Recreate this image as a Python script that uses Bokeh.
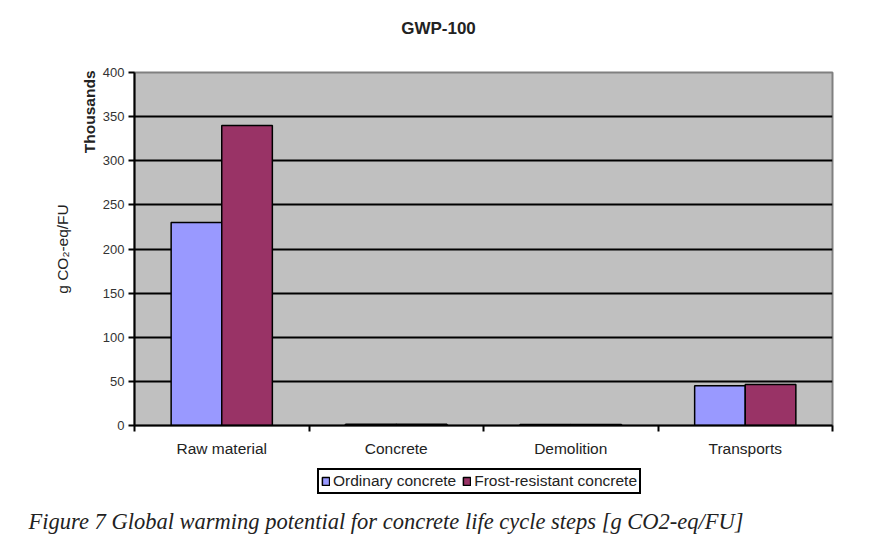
import numpy as np
from bokeh.plotting import figure
from bokeh.layouts import column
from bokeh.models import (ColumnDataSource, FixedTicker, Label, Legend, LegendItem,
                          Range1d, Title)
from bokeh.transform import dodge
from bokeh.embed import file_html
from bokeh.resources import INLINE

categories = ["Raw material", "Concrete", "Demolition", "Transports"]
ordinary = [230, 1.5, 1.0, 45]      # thousands g CO2-eq/FU
frost = [340, 1.5, 1.0, 46.5]
y_ticks = [0, 50, 100, 150, 200, 250, 300, 350, 400]
series_names = ["Ordinary concrete", "Frost-resistant concrete"]
series_colors = ["#9999FF", "#993366"]

W, H = 856, 538
FX0, FY0, FX1, FY1 = 134, 72, 832, 425   # frame edges in canvas pixels
T_H = 62                                  # height of the title strip
P_H = 462                                 # bottom of the chart part
LEG_X0, LEG_Y1 = 317, 494                 # legend box left / bottom

pos = [i + 0.5 for i in range(len(categories))]
src = ColumnDataSource(dict(x=pos, cat=categories, ordinary=ordinary, frost=frost))


def strip(frame_h, bottom=0):
    f = figure(frame_width=FX1 - FX0, frame_height=frame_h, output_backend="svg",
               toolbar_location=None, x_axis_location=None, y_axis_location=None,
               x_range=Range1d(0, 1), y_range=Range1d(0, 1),
               min_border_left=FX0, min_border_right=W - FX1,
               min_border_top=0, min_border_bottom=bottom)
    f.grid.visible = False
    f.outline_line_color = None
    f.background_fill_color = "white"
    f.border_fill_color = "white"
    return f


# ---- top strip: title -------------------------------------------------------
t = strip(T_H)
t.add_layout(Label(x=438 - FX0, y=T_H - 28, x_units="screen", y_units="screen",
                   text="GWP-100", text_font="Liberation Sans", text_font_style="bold",
                   text_font_size="17px", text_color="#222222", text_align="center",
                   text_baseline="middle"))

# ---- main chart -------------------------------------------------------------
p = figure(frame_width=FX1 - FX0, frame_height=FY1 - FY0,
           output_backend="svg", toolbar_location=None,
           x_range=Range1d(0, len(categories)), y_range=Range1d(0, 400),
           min_border_left=FX0, min_border_right=W - FX1,
           min_border_top=FY0 - T_H, min_border_bottom=P_H - FY1)
p.border_fill_color = "white"
p.background_fill_color = "#C0C0C0"
p.outline_line_color = "#808080"
p.outline_line_width = 2

bw = 0.29
r1 = p.vbar(x=dodge("x", -bw / 2, range=p.x_range), top="ordinary", width=bw, source=src,
            fill_color=series_colors[0], line_color="black", line_width=1.5)
r2 = p.vbar(x=dodge("x", bw / 2, range=p.x_range), top="frost", width=bw, source=src,
            fill_color=series_colors[1], line_color="black", line_width=1.5)

p.xaxis.ticker = FixedTicker(ticks=pos, minor_ticks=list(range(len(categories) + 1)))
p.xaxis.major_label_overrides = {v: c for v, c in zip(pos, categories)}
p.xaxis.major_tick_out = 0
p.xaxis.major_tick_in = 0
p.xaxis.minor_tick_out = 6
p.xaxis.minor_tick_in = 0
p.xaxis.minor_tick_line_color = "black"
p.xaxis.minor_tick_line_width = 2
p.xaxis.axis_line_color = "black"
p.xaxis.axis_line_width = 2
p.xaxis.major_label_text_font = "Liberation Sans"
p.xaxis.major_label_text_font_size = "15.5px"
p.xaxis.major_label_text_color = "#222222"
p.xaxis.major_label_standoff = 8

p.yaxis.ticker = FixedTicker(ticks=y_ticks)
p.yaxis.minor_tick_line_color = None
p.yaxis.major_tick_out = 6
p.yaxis.major_tick_in = 0
p.yaxis.major_tick_line_color = "black"
p.yaxis.major_tick_line_width = 2
p.yaxis.axis_line_color = "black"
p.yaxis.axis_line_width = 2
p.yaxis.major_label_text_font = "Liberation Sans"
p.yaxis.major_label_text_font_size = "13px"
p.yaxis.major_label_text_color = "#333333"
p.yaxis.major_label_standoff = 4

p.xgrid.grid_line_color = None
p.ygrid.ticker = FixedTicker(ticks=y_ticks[1:-1])
p.ygrid.grid_line_color = "black"
p.ygrid.grid_line_width = 2

p.add_layout(Title(text="Thousands", text_font="Liberation Sans", text_font_style="bold",
                   text_font_size="15.5px", text_color="#222222", align="right",
                   offset=-2, standoff=4), "left")
p.add_layout(Title(text="g CO\u2082-eq/FU", text_font="Liberation Sans",
                   text_font_style="normal", text_font_size="15.5px", text_color="#222222",
                   align="center", standoff=12), "left")

# ---- bottom strip: legend + caption -----------------------------------------
Q_FH = 40
q = strip(Q_FH, bottom=H - P_H - Q_FH)

# hidden legend proxies carrying the same series styling
lr = [q.vbar(x="x", top=col, width=bw, source=src, fill_color=c,
             line_color="black", line_width=1.5, visible=False)
      for col, c in zip(["ordinary", "frost"], series_colors)]

legend = Legend(items=[LegendItem(label=n, renderers=[r]) for n, r in zip(series_names, lr)],
                orientation="horizontal", click_policy="none",
                location=(LEG_X0 - FX0, Q_FH - (LEG_Y1 - P_H)),
                border_line_color="black", border_line_width=2, border_line_alpha=1,
                background_fill_color="white", background_fill_alpha=1,
                inactive_fill_alpha=0,
                label_text_font="Liberation Sans", label_text_font_size="15.5px",
                label_text_color="#222222",
                glyph_width=9, glyph_height=10, label_standoff=3, spacing=6,
                padding=2, margin=0, label_height=16)
q.add_layout(legend, "center")

q.add_layout(Title(text="Figure 7 Global warming potential for concrete life cycle steps [g CO2-eq/FU]",
                   text_font="Liberation Serif", text_font_style="italic",
                   text_font_size="22.5px", text_color="#222222", align="left",
                   offset=28 - FX0, standoff=9), "below")

layout = column(t, p, q, spacing=0)
open("out.html", "w").write(file_html(layout, INLINE))
